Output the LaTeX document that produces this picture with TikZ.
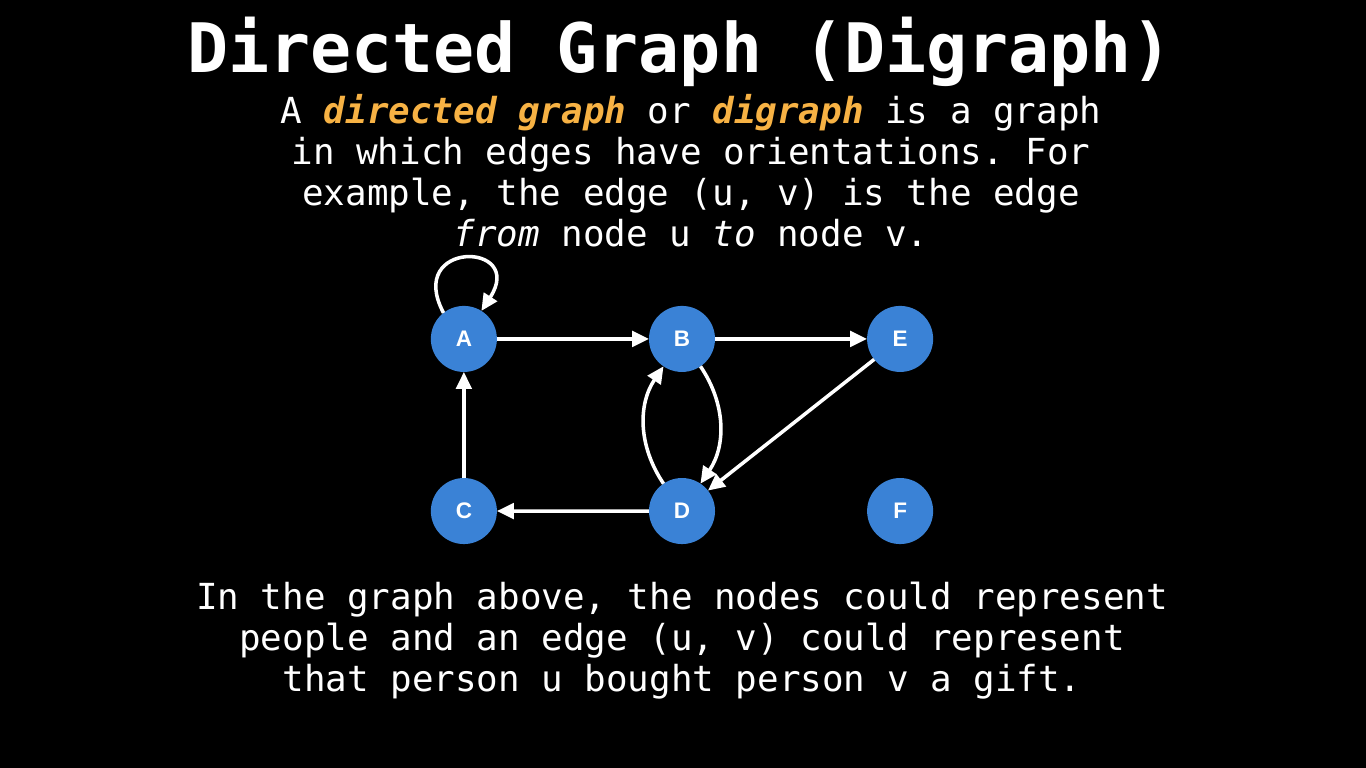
\documentclass[tikz,border=0pt]{standalone}
\usepackage{fontspec}
\setmainfont{DejaVu Sans Mono}
\newfontfamily\labelfont{Liberation Sans}
\usetikzlibrary{arrows.meta, matrix}
\definecolor{nodeblue}{RGB}{58,130,214}
\definecolor{keyorange}{RGB}{247,178,68}
\newcommand{\keyword}[1]{\textcolor{keyorange}{\bfseries\itshape #1}}

\begin{document}
\begin{tikzpicture}[x=0.01cm, y=-0.01cm,
        vertex/.style={circle, fill=nodeblue, text=white, minimum size=0.66cm, inner sep=0pt, outer sep=0pt,
            font=\labelfont\bfseries\fontsize{6.4pt}{7pt}\selectfont},
        dedge/.style={draw=white, line width=1pt, -{Triangle[length=4.8pt, width=4.4pt]}},
        caption/.style={text=white, align=center, inner sep=0pt, anchor=base,
            font=\frenchspacing\fontsize{10.2pt}{11.67pt}\selectfont}]
        \useasboundingbox[fill=black] (0,0) rectangle (1366,768);

        % texts are anchored at the baseline of their last line
        \node[caption, font=\bfseries\fontsize{19.4pt}{23pt}\selectfont] (title) at (680,73) {Directed Graph (Digraph)};
        \node[caption] (intro) at (691,247) {A \keyword{directed graph} or \keyword{digraph} is a graph\\
            in which edges have orientations. For\\
            example, the edge (u, v) is the edge\\
            \textit{from} node u \textit{to} node v.};

        \matrix (m) [matrix of nodes, nodes={vertex}, column sep=1.52cm, row sep=1.06cm] at (682,425) {
        |(A)| A & |(B)| B & |(E)| E \\
        |(C)| C & |(D)| D & |(F)| F \\};

        \draw[dedge] (A) -- (B);
        \draw[dedge] (B) -- (E);
        \draw[dedge] (C) -- (A);
        \draw[dedge] (D) -- (C);
        \draw[dedge] (E) -- (D);
        \draw[dedge] (D) to[bend left=34] (B);
        \draw[dedge] (B) to[bend left=34] (D);
        \draw[dedge] (A.128) to[out=118, in=57, looseness=5.6] (A.58);

        \node[caption] (remark) at (682,692) {In the graph above, the nodes could represent\\
            people and an edge (u, v) could represent\\
            that person u bought person v a gift.};
\end{tikzpicture}
\end{document}
